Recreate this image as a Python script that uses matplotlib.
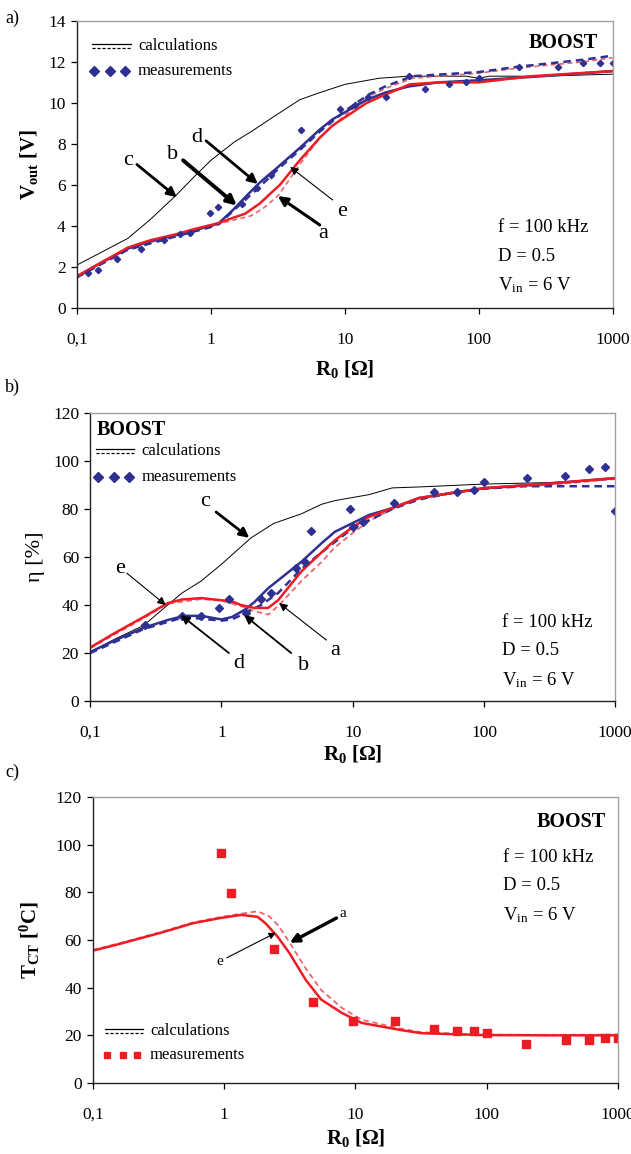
import numpy as np
import matplotlib
matplotlib.use('Agg')
import matplotlib.pyplot as plt

plt.rcParams['font.family'] = ['Liberation Serif', 'DejaVu Serif']
plt.rcParams['mathtext.fontset'] = 'custom'
plt.rcParams['mathtext.rm'] = 'Liberation Serif'
plt.rcParams['mathtext.it'] = 'Liberation Serif:italic'
plt.rcParams['mathtext.bf'] = 'Liberation Serif:bold'

BLUE = '#2E3192'
RED = '#ED1C24'
PINK = '#F0646C'

# ---- panel a: output voltage ----
ra_c = [0.1, 0.15, 0.24, 0.35, 0.55, 0.75, 1.0, 1.5, 2.0, 2.9, 4.6, 6.5, 10, 18, 30, 50, 80, 100, 120, 300, 1000]
va_c = [2.1, 2.7, 3.4, 4.3, 5.5, 6.4, 7.2, 8.1, 8.6, 9.3, 10.15, 10.5, 10.9, 11.2, 11.3, 11.3, 11.3, 11.2, 11.3, 11.3, 11.4]

ra_d = [0.1, 0.15, 0.24, 0.35, 0.55, 0.75, 1.0, 1.15, 1.46, 1.8, 2.3, 3.2, 4.6, 6.5, 8.1, 14.6, 20, 30, 50, 100, 300, 1000]
va_d = [1.55, 2.2, 2.9, 3.25, 3.56, 3.8, 4.0, 4.15, 4.78, 5.4, 6.1, 6.9, 7.8, 8.7, 9.2, 10.15, 10.5, 10.8, 11.0, 11.1, 11.3, 11.55]

ra_e = [0.1, 0.15, 0.24, 0.35, 0.55, 0.75, 1.0, 1.15, 1.46, 1.8, 2.32, 2.8, 3.27, 4.6, 6.5, 8.1, 14.6, 20, 30.5, 50, 100, 250, 1000]
va_e = [1.55, 2.2, 2.95, 3.3, 3.6, 3.85, 4.05, 4.15, 4.4, 4.6, 5.1, 5.6, 6.0, 7.2, 8.3, 8.9, 10.0, 10.4, 10.9, 11.0, 11.0, 11.3, 11.55]

ra_b = [0.1, 0.24, 0.55, 1.0, 1.15, 1.5, 2.3, 3.2, 4.6, 6.5, 10, 15, 20, 32, 100, 190, 600, 1000]
va_b = [1.5, 2.85, 3.5, 3.95, 4.1, 4.8, 5.9, 6.8, 7.7, 8.6, 9.6, 10.4, 10.8, 11.3, 11.5, 11.75, 12.1, 12.3]

ra_a = [0.1, 0.24, 0.55, 1.0, 1.15, 1.5, 2.0, 2.5, 3.2, 4.6, 6.5, 10, 15, 20, 32, 100, 200, 600, 1000]
va_a = [1.5, 2.9, 3.55, 4.0, 4.1, 4.3, 4.5, 4.9, 5.5, 7.0, 8.3, 9.4, 10.3, 10.7, 11.2, 11.45, 11.7, 12.0, 12.2]

rm_a = [0.12, 0.143, 0.2, 0.3, 0.45, 0.59, 0.7, 0.98, 1.13, 1.7, 2.2, 2.8, 4.7, 9.2, 12, 14.9, 20.2, 30, 39.5, 59.7, 80, 100, 200, 390, 600, 800, 1000]
vm_a = [1.7, 1.85, 2.4, 2.9, 3.3, 3.6, 3.65, 4.63, 4.93, 5.05, 5.85, 6.5, 8.68, 9.7, 9.9, 10.3, 10.3, 11.3, 10.7, 10.9, 11.0, 11.2, 11.75, 11.75, 11.95, 11.95, 11.95]

# ---- panel b: efficiency ----
rb_c = [0.1, 0.15, 0.255, 0.389, 0.5, 0.7, 1.0, 1.68, 2.5, 4.06, 5.8, 7.3, 13.3, 20, 32, 100, 300, 1000]
eb_c = [20.4, 25.5, 31.5, 40, 45, 50, 57, 68, 74, 78, 82, 83.5, 86, 88.8, 89.2, 90.4, 91, 92.5]

rb_e = [0.1, 0.15, 0.255, 0.389, 0.5, 0.7, 1.0, 1.2, 1.41, 1.78, 2.27, 2.7, 4.06, 5.8, 7.3, 10, 13.3, 20, 32, 100, 300, 1000]
eb_e = [22.3, 28, 35, 40.8, 42.3, 42.9, 42, 41.5, 40, 38.8, 38.8, 42, 54, 62, 67, 72.5, 76.7, 80.4, 84.6, 88.7, 90.5, 92.9]

rb_d = [0.1, 0.15, 0.255, 0.389, 0.52, 0.7, 1.0, 1.2, 1.5, 1.78, 2.27, 4.06, 5.8, 7.3, 13.3, 20, 32, 100, 300, 1000]
eb_d = [20.4, 25, 30.5, 33.75, 35.5, 35.5, 34, 35, 38, 41.2, 47, 58, 65.8, 70.5, 77.5, 80.4, 84.6, 88.7, 90.5, 92.9]

rb_b = [0.1, 0.255, 0.52, 1.0, 1.2, 1.5, 2.0, 2.7, 4.06, 5.8, 10, 20, 32, 60, 100, 200, 1000]
eb_b = [20, 30, 35, 33.5, 34, 36.5, 40, 45, 55, 62, 72, 80, 84, 87, 88.5, 89.5, 89.5]

rb_a = [0.1, 0.255, 0.389, 0.7, 1.0, 1.41, 1.78, 2.27, 2.75, 4.06, 5.8, 7.3, 10, 13.3, 20, 32, 100, 300, 1000]
eb_a = [22, 34.5, 40.5, 42.5, 41.8, 39.5, 37.5, 36, 40, 50, 58, 64, 70, 75, 80, 84.5, 88.5, 90, 92.5]

rm_b = [0.26, 0.5, 0.7, 0.96, 1.15, 1.53, 2.0, 2.4, 3.7, 4.3, 4.8, 9.5, 10, 12, 20.5, 41.7, 62.5, 84, 100, 212, 414, 630, 837, 1000]
em_b = [31.5, 35.5, 35.5, 38.6, 42.5, 36.7, 42.5, 45, 55.4, 58, 70.8, 80, 72.5, 74.6, 82.5, 87, 87, 88, 91.2, 92.9, 93.8, 96.7, 97.5, 79]

# ---- panel c: temperature ----
rc_e = [0.1, 0.152, 0.33, 0.58, 0.94, 1.35, 1.8, 2.07, 2.55, 3.15, 4.2, 5.5, 7.9, 11.2, 22.3, 31.7, 92.8, 300, 1000]
tc_e = [55.5, 58, 63, 67, 69.2, 70.5, 69.7, 67, 61.5, 54.5, 43.2, 35, 29.4, 25.2, 22.2, 20.9, 20.1, 20, 20]

rc_a = [0.1, 0.152, 0.33, 0.58, 0.94, 1.35, 1.8, 2.2, 2.6, 3.15, 4.2, 5.5, 7.9, 11.2, 22.3, 31.7, 92.8, 300, 1000]
tc_a = [55.8, 58.3, 63.3, 67.3, 69.6, 71, 72, 70, 66, 59, 48, 39, 31.5, 26.5, 22.8, 21.3, 20.3, 20.2, 20.3]

rm_c = [0.945, 1.14, 2.39, 4.77, 9.6, 20.2, 39.5, 60, 80.4, 100, 200, 400, 600, 800, 1000]
tm_c = [96.5, 79.7, 56.2, 34, 26, 26, 22.7, 21.8, 21.8, 21, 16.4, 18, 18, 19, 19]

xticks = [0.1, 1, 10, 100, 1000]
xticklabels = ['0,1', '1', '10', '100', '1000']


def style_axes(ax, ymax, ystep):
    ax.set_xscale('log')
    ax.set_xlim(0.1, 1000)
    ax.set_ylim(0, ymax)
    ax.set_xticks(xticks)
    ax.set_xticklabels(xticklabels)
    ax.xaxis.set_minor_locator(matplotlib.ticker.NullLocator())
    ax.set_yticks(np.arange(0, ymax + 1, ystep))
    ax.tick_params(axis='both', direction='out', length=4, width=0.9, labelsize=12.5)
    ax.tick_params(axis='x', pad=13)
    ax.tick_params(axis='y', pad=4)
    for s in ['left', 'bottom']:
        ax.spines[s].set_color('#222222')
        ax.spines[s].set_linewidth(1.0)
    for s in ['top', 'right']:
        ax.spines[s].set_color('#A0A0A0')
        ax.spines[s].set_linewidth(1.0)
    ax.set_xlabel(r'R$_{\mathbf{0}}$ [$\mathbf{\Omega}$]', fontsize=15, fontweight='bold')


def legend_art(ax, x0, y_line, y_meas, marker, mcolor, ms):
    ax.plot([x0, x0 + 0.072], [y_line + 0.007, y_line + 0.007], color='black', lw=0.9,
            transform=ax.transAxes, clip_on=False)
    ax.plot([x0, x0 + 0.072], [y_line - 0.008, y_line - 0.008], color='black', lw=0.9,
            ls=(0, (2.5, 1.5)), transform=ax.transAxes, clip_on=False)
    ax.text(x0 + 0.086, y_line, 'calculations', transform=ax.transAxes, fontsize=12, va='center')
    ax.plot([x0 + 0.004, x0 + 0.034, x0 + 0.062], [y_meas] * 3, ls='none', marker=marker,
            color=mcolor, ms=ms, transform=ax.transAxes, clip_on=False)
    ax.text(x0 + 0.086, y_meas, 'measurements', transform=ax.transAxes, fontsize=12, va='center')


def arrow(ax, tail, head, lw, ms):
    ax.annotate('', xy=head, xytext=tail,
                arrowprops=dict(arrowstyle='-|>', lw=lw, color='black', mutation_scale=ms,
                                shrinkA=0, shrinkB=0))


fig = plt.figure(figsize=(6.31, 11.54), dpi=100)

# ================= panel a =================
ax = fig.add_axes([0.122, 0.733, 0.849, 0.249])
style_axes(ax, 14, 2)
ax.plot(ra_c, va_c, color='black', lw=0.7)
ax.plot(ra_a, va_a, color=PINK, lw=1.2, ls=(0, (3, 2)))
ax.plot(ra_b, va_b, color=BLUE, lw=1.8, ls=(0, (3, 2)))
ax.plot(ra_d, va_d, color=BLUE, lw=1.8)
ax.plot(ra_e, va_e, color=RED, lw=1.8)
ax.plot(rm_a, vm_a, ls='none', marker='D', ms=3.2, color=BLUE)
ax.set_ylabel(r'V$_{\mathbf{out}}$ [V]', fontsize=15, fontweight='bold')
ax.yaxis.set_label_coords(-0.069, 0.5)
ax.xaxis.set_label_coords(0.5, -0.172)
legend_art(ax, 0.028, 0.913, 0.826, 'D', BLUE, 5)
ax.text(0.972, 0.923, 'BOOST', transform=ax.transAxes, fontsize=14.5, fontweight='bold',
        ha='right', va='center')
ax.text(0.785, 0.279, 'f = 100 kHz', transform=ax.transAxes, fontsize=13.5, va='center')
ax.text(0.785, 0.181, 'D = 0.5', transform=ax.transAxes, fontsize=13.5, va='center')
ax.text(0.785, 0.080, r'V$_{\mathrm{in}}$ = 6 V', transform=ax.transAxes, fontsize=13.5, va='center')
ax.text(0.24, 7.2, 'c', fontsize=16, ha='center', va='center')
arrow(ax, (0.28, 7.0), (0.557, 5.4), 2.0, 14)
ax.text(0.52, 7.5, 'b', fontsize=16, ha='center', va='center')
arrow(ax, (0.62, 7.2), (1.56, 5.0), 2.8, 14)
ax.text(0.79, 8.3, 'd', fontsize=16, ha='center', va='center')
arrow(ax, (0.92, 8.15), (2.24, 6.05), 2.0, 14)
ax.text(6.85, 3.65, 'a', fontsize=16, ha='center', va='center')
arrow(ax, (6.5, 4.05), (3.16, 5.46), 2.2, 14)
ax.text(9.5, 4.7, 'e', fontsize=16, ha='center', va='center')
arrow(ax, (8.1, 5.27), (3.9, 6.88), 0.8, 12)

# ================= panel b =================
ax = fig.add_axes([0.143, 0.3925, 0.832, 0.2496])
style_axes(ax, 120, 20)
ax.plot(rb_c, eb_c, color='black', lw=0.7)
ax.plot(rb_a, eb_a, color=PINK, lw=1.3, ls=(0, (3, 2)))
ax.plot(rb_b, eb_b, color=BLUE, lw=1.8, ls=(0, (3, 2)))
ax.plot(rb_d, eb_d, color=BLUE, lw=1.8)
ax.plot(rb_e, eb_e, color=RED, lw=1.8)
ax.plot(rm_b, em_b, ls='none', marker='D', ms=3.6, color=BLUE)
ax.set_ylabel('η [%]', fontsize=16)
ax.yaxis.set_label_coords(-0.086, 0.5)
ax.xaxis.set_label_coords(0.5, -0.146)
ax.text(0.013, 0.941, 'BOOST', transform=ax.transAxes, fontsize=14.5, fontweight='bold',
        ha='left', va='center')
legend_art(ax, 0.011, 0.868, 0.778, 'D', BLUE, 5)
ax.text(0.785, 0.271, 'f = 100 kHz', transform=ax.transAxes, fontsize=13.5, va='center')
ax.text(0.785, 0.174, 'D = 0.5', transform=ax.transAxes, fontsize=13.5, va='center')
ax.text(0.785, 0.073, r'V$_{\mathrm{in}}$ = 6 V', transform=ax.transAxes, fontsize=13.5, va='center')
ax.text(0.75, 83, 'c', fontsize=16, ha='center', va='center')
arrow(ax, (0.91, 78.75), (1.63, 68), 2.0, 14)
ax.text(0.17, 55.4, 'e', fontsize=16, ha='center', va='center')
arrow(ax, (0.19, 53.3), (0.376, 40), 0.8, 12)
ax.text(1.36, 15.8, 'd', fontsize=16, ha='center', va='center')
arrow(ax, (1.14, 20), (0.49, 35.8), 1.3, 13)
ax.text(4.2, 15, 'b', fontsize=16, ha='center', va='center')
arrow(ax, (3.4, 20), (1.49, 35.8), 1.3, 13)
ax.text(7.3, 21.25, 'a', fontsize=16, ha='center', va='center')
arrow(ax, (6.3, 25.4), (2.75, 40.8), 0.8, 12)

# ================= panel c =================
ax = fig.add_axes([0.147, 0.0615, 0.832, 0.248])
style_axes(ax, 120, 20)
ax.plot(rc_a, tc_a, color=PINK, lw=1.3, ls=(0, (3, 2)))
ax.plot(rc_e, tc_e, color=RED, lw=1.8)
ax.plot(rm_c, tm_c, ls='none', marker='s', ms=5.5, color=RED)
ax.set_ylabel(r'T$_{\mathbf{CT}}$ [$^{\mathbf{0}}$C]', fontsize=15, fontweight='bold')
ax.yaxis.set_label_coords(-0.097, 0.5)
ax.xaxis.set_label_coords(0.5, -0.154)
ax.text(0.977, 0.913, 'BOOST', transform=ax.transAxes, fontsize=14.5, fontweight='bold',
        ha='right', va='center')
ax.text(0.781, 0.787, 'f = 100 kHz', transform=ax.transAxes, fontsize=13.5, va='center')
ax.text(0.781, 0.689, 'D = 0.5', transform=ax.transAxes, fontsize=13.5, va='center')
ax.text(0.781, 0.587, r'V$_{\mathrm{in}}$ = 6 V', transform=ax.transAxes, fontsize=13.5, va='center')
legend_art(ax, 0.023, 0.183, 0.098, 's', RED, 5)
ax.text(8.0, 70.9, 'a', fontsize=11, ha='center', va='center')
arrow(ax, (7.2, 69.2), (3.17, 58.8), 2.4, 13)
ax.text(0.93, 50.8, 'e', fontsize=11, ha='center', va='center')
arrow(ax, (1.05, 52.5), (2.48, 63), 0.8, 10)

fig.text(0.008, 0.984, 'a)', fontsize=13, va='center')
fig.text(0.008, 0.664, 'b)', fontsize=13, va='center')
fig.text(0.008, 0.331, 'c)', fontsize=13, va='center')

fig.savefig('out.png', dpi=100)
